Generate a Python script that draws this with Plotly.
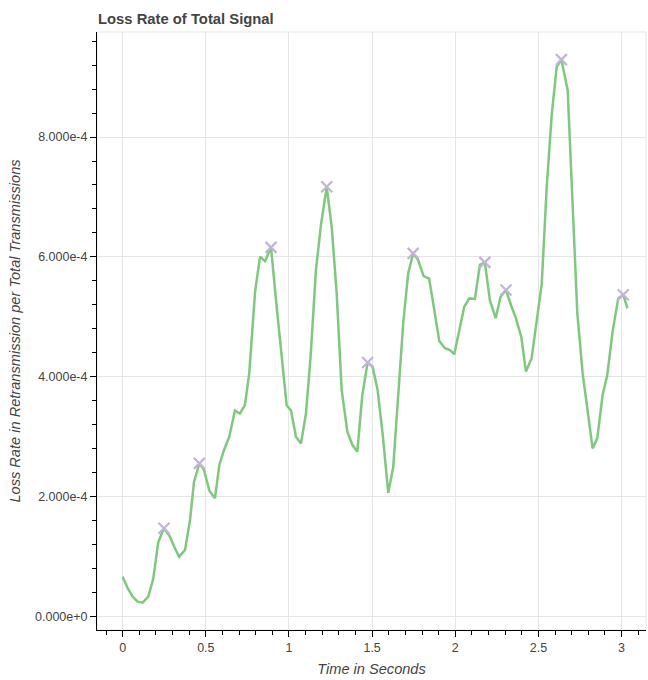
import plotly.graph_objects as go

# Time samples (seconds) and loss rate (x1e-4) of the total signal
time_s = [0.0, 0.03, 0.06, 0.09, 0.12, 0.154, 0.184, 0.214, 0.248, 0.284, 0.31, 0.339,
          0.375, 0.405, 0.429, 0.461, 0.489, 0.521, 0.555, 0.581, 0.609, 0.641, 0.675,
          0.705, 0.735, 0.761, 0.796, 0.826, 0.856, 0.892, 0.922, 0.956, 0.986, 1.012,
          1.042, 1.072, 1.102, 1.13, 1.162, 1.192, 1.227, 1.257, 1.287, 1.317, 1.351,
          1.381, 1.411, 1.441, 1.473, 1.503, 1.533, 1.563, 1.597, 1.627, 1.657, 1.687,
          1.717, 1.747, 1.777, 1.81, 1.843, 1.87, 1.904, 1.938, 1.968, 1.994, 2.024,
          2.054, 2.084, 2.118, 2.148, 2.178, 2.208, 2.243, 2.273, 2.305, 2.335, 2.362,
          2.397, 2.425, 2.459, 2.489, 2.52, 2.55, 2.58, 2.61, 2.638, 2.676, 2.706,
          2.734, 2.766, 2.794, 2.826, 2.854, 2.886, 2.914, 2.946, 2.98, 3.01, 3.036]
loss_e4 = [0.672, 0.48, 0.338, 0.255, 0.238, 0.338, 0.64, 1.25, 1.478, 1.34, 1.17, 1.005,
           1.117, 1.617, 2.255, 2.56, 2.45, 2.105, 1.98, 2.53, 2.78, 3.005, 3.44, 3.39,
           3.53, 4.06, 5.42, 6.005, 5.93, 6.16, 5.28, 4.28, 3.53, 3.44, 3.005, 2.89, 3.39,
           4.34, 5.78, 6.53, 7.17, 6.5, 5.39, 3.78, 3.09, 2.87, 2.755, 3.7, 4.24, 4.17,
           3.78, 3.06, 2.07, 2.5, 3.73, 4.9, 5.73, 6.06, 5.95, 5.68, 5.64, 5.17, 4.6,
           4.48, 4.45, 4.38, 4.78, 5.17, 5.31, 5.3, 5.87, 5.91, 5.28, 4.98, 5.34, 5.45,
           5.2, 5.0, 4.67, 4.09, 4.31, 4.92, 5.55, 7.17, 8.37, 9.17, 9.29, 8.78, 6.895,
           5.06, 4.06, 3.45, 2.81, 2.98, 3.7, 4.03, 4.755, 5.31, 5.37, 5.145]

# Indices of the local peaks that get an "x" marker
peak_idx = [8, 15, 29, 40, 48, 57, 71, 75, 86, 98]

# Axis tick positions and labels
x_ticks = [0, 0.5, 1, 1.5, 2, 2.5, 3]
x_labels = ["0", "0.5", "1", "1.5", "2", "2.5", "3"]
y_ticks = [0, 2e-4, 4e-4, 6e-4, 8e-4]
y_labels = ["0.000e+0", "2.000e-4", "4.000e-4", "6.000e-4", "8.000e-4"]

loss = [v * 1e-4 for v in loss_e4]
peak_t = [time_s[i] for i in peak_idx]
peak_v = [loss[i] for i in peak_idx]

FONT = "Liberation Sans, Arial, Helvetica, sans-serif"
GRID = "#e5e5e5"
TXT = "#444444"

fig = go.Figure()
fig.add_trace(go.Scatter(
    x=time_s, y=loss, mode="lines",
    line=dict(color="#7dca7d", width=2.5),
    showlegend=False, hoverinfo="x+y",
))
fig.add_trace(go.Scatter(
    x=peak_t, y=peak_v, mode="markers",
    marker=dict(symbol="x-thin", size=11, color="#c3b3da",
                line=dict(color="#c3b3da", width=2.2)),
    showlegend=False, hoverinfo="x+y",
))

# light outline around the plotting frame
fig.add_shape(type="rect", xref="paper", yref="paper", x0=0, y0=0, x1=1, y1=1,
              line=dict(color=GRID, width=1), layer="below")

fig.update_layout(
    width=648, height=680,
    margin=dict(l=97, r=2, t=32, b=50),
    paper_bgcolor="white", plot_bgcolor="white",
    font=dict(family=FONT, color=TXT, size=12.5),
    title=dict(text="<b>Loss Rate of Total Signal</b>",
               x=98 / 648, xanchor="left", xref="container",
               y=1 - 19 / 680, yanchor="middle", yref="container",
               font=dict(family=FONT, size=14.8, color=TXT)),
)

fig.update_xaxes(
    range=[-0.1545, 3.147],
    tickvals=x_ticks, ticktext=x_labels,
    showgrid=True, gridcolor=GRID, gridwidth=1, zeroline=False,
    showline=True, linecolor="black", linewidth=1,
    ticks="outside", ticklen=6, tickcolor="black", tickwidth=1,
    minor=dict(dtick=0.1, tick0=0, ticks="outside", ticklen=4,
               tickcolor="black", tickwidth=1, showgrid=False),
    tickfont=dict(family=FONT, size=12.5, color=TXT),
    title=dict(text="Time in Seconds", standoff=9,
               font=dict(family=FONT, size=14.6, color=TXT, style="italic")),
)

fig.update_yaxes(
    range=[-0.217e-4, 9.75e-4],
    tickvals=y_ticks, ticktext=y_labels,
    showgrid=True, gridcolor=GRID, gridwidth=1, zeroline=False,
    showline=True, linecolor="black", linewidth=1,
    ticks="outside", ticklen=6, tickcolor="black", tickwidth=1,
    minor=dict(dtick=0.4e-4, tick0=0, ticks="outside", ticklen=4,
               tickcolor="black", tickwidth=1, showgrid=False),
    tickfont=dict(family=FONT, size=12.5, color=TXT),
    title=dict(text="Loss Rate in Retransmission per Total Transmissions", standoff=10,
               font=dict(family=FONT, size=14.6, color=TXT, style="italic")),
)

fig.write_html("out.html")
